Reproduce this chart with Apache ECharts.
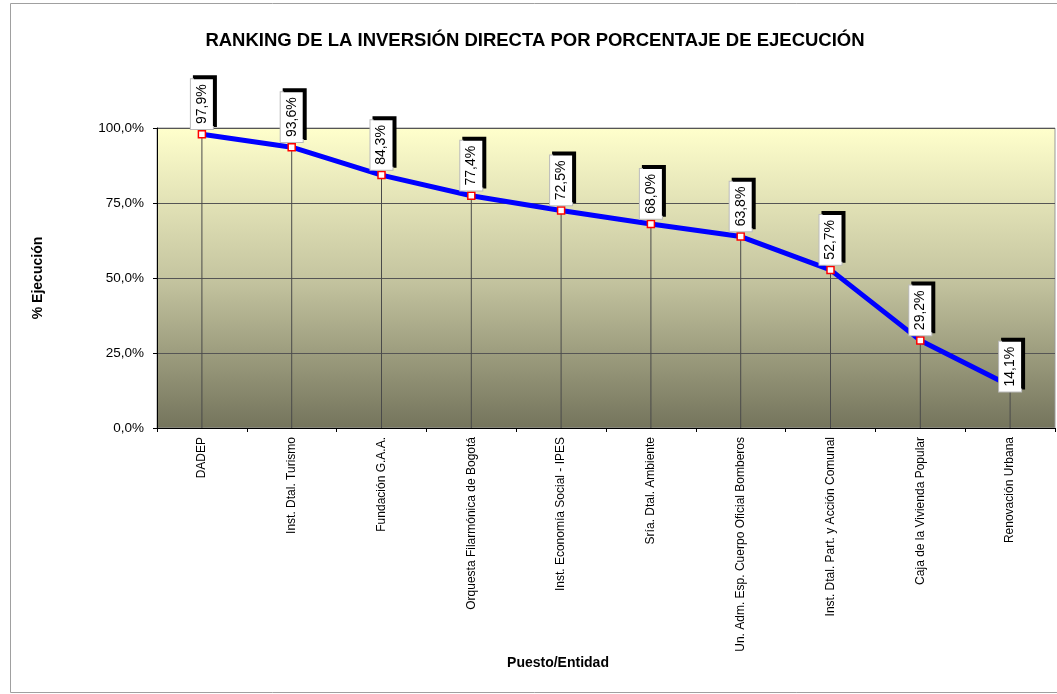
<!DOCTYPE html>
<html>
<head>
<meta charset="utf-8">
<script src="https://cdn.jsdelivr.net/npm/echarts@6/dist/echarts.min.js"></script>
<style>
  html, body { margin: 0; padding: 0; background: #fff; }
  #chart { width: 1057px; height: 694px; }
</style>
</head>
<body>
<div id="chart"></div>
<script>
var entidades = ['DADEP', 'Inst. Dtal. Turismo', 'Fundación G.A.A.', 'Orquesta Filarmónica de Bogotá',
  'Inst. Economía Social - IPES', 'Sría. Dtal. Ambiente', 'Un. Adm. Esp. Cuerpo Oficial Bomberos',
  'Inst. Dtal. Part. y Acción Comunal', 'Caja de la Vivienda Popular', 'Renovación Urbana'];
var ejecucion = [97.9, 93.6, 84.3, 77.4, 72.5, 68.0, 63.8, 52.7, 29.2, 14.1];
var yTicks = [0, 25, 50, 75, 100];

function pct(v) { return v.toFixed(1).replace('.', ',') + '%'; }

var chart = echarts.init(document.getElementById('chart'));
var font = 'Arial, "Liberation Sans", sans-serif';

chart.setOption({
  animation: false,
  textStyle: { fontFamily: font },
  title: {
    text: 'RANKING DE LA INVERSIÓN DIRECTA POR PORCENTAJE DE EJECUCIÓN',
    left: 530, top: 26, textAlign: 'center',
    textStyle: { fontSize: 18.5, fontWeight: 'bold', color: '#000', fontFamily: font }
  },
  graphic: [{
    type: 'rect', silent: true,
    shape: { x: 10.5, y: 3.5, width: 1100, height: 689 },
    style: { fill: 'none', stroke: '#a0a0a0', lineWidth: 1 }
  }],
  grid: {
    left: 157, right: 2, top: 128, bottom: 266,
    show: true, borderColor: '#999', borderWidth: 1,
    backgroundColor: new echarts.graphic.LinearGradient(0, 0, 0, 1, [
      { offset: 0, color: '#ffffcc' },
      { offset: 0.5, color: '#c5c5a0' },
      { offset: 1, color: '#74745c' }
    ])
  },
  xAxis: {
    type: 'category', data: entidades, boundaryGap: true,
    name: 'Puesto/Entidad', nameLocation: 'middle', nameGap: 226,
    nameTextStyle: { fontSize: 14, fontWeight: 'bold', color: '#000', padding: [0, 96, 0, 0] },
    axisLine: { lineStyle: { color: '#000', width: 1 } },
    axisTick: { show: true, length: 4, lineStyle: { color: '#000' } },
    axisLabel: { rotate: 90, fontSize: 12, color: '#000', margin: 9, interval: 0 },
    splitLine: { show: false }
  },
  yAxis: {
    type: 'value', min: 0, max: 100, interval: 25,
    name: '% Ejecución', nameLocation: 'middle', nameGap: 112, nameRotate: 90,
    nameTextStyle: { fontSize: 14, fontWeight: 'bold', color: '#000' },
    axisLine: { show: true, lineStyle: { color: '#000', width: 1 } },
    axisTick: { show: true, length: 4, lineStyle: { color: '#000' } },
    axisLabel: {
      fontSize: 13.5, color: '#000', margin: 13,
      formatter: function (v) { return yTicks.indexOf(v) >= 0 ? pct(v) : ''; }
    },
    splitLine: { show: true, lineStyle: { color: '#555', width: 1 } }
  },
  series: [
    {
      name: 'drop', type: 'bar', barWidth: 1, silent: true, z: 1,
      itemStyle: { color: '#4a4a4a' },
      data: ejecucion
    },
    {
      name: '% Ejecución', type: 'line', z: 3,
      symbol: 'rect', symbolSize: 7,
      itemStyle: { color: '#fff', borderColor: '#ff0000', borderWidth: 1.5 },
      lineStyle: { color: '#0000ff', width: 5 },
      data: ejecucion.map(function (v, i) {
        var last = i === ejecucion.length - 1;
        return {
          value: v,
          label: last ? { position: 'top', distance: -10 } : undefined
        };
      }),
      label: {
        show: true, position: 'top', distance: 1, rotate: 90,
        align: 'left', verticalAlign: 'middle',
        formatter: function (p) { return pct(p.value); },
        fontSize: 14, color: '#000',
        backgroundColor: '#fff', borderColor: '#bbb', borderWidth: 1,
        padding: [4, 5, 4, 5],
        shadowColor: '#000', shadowOffsetX: 3, shadowOffsetY: -3, shadowBlur: 0
      }
    }
  ]
});
</script>
</body>
</html>
